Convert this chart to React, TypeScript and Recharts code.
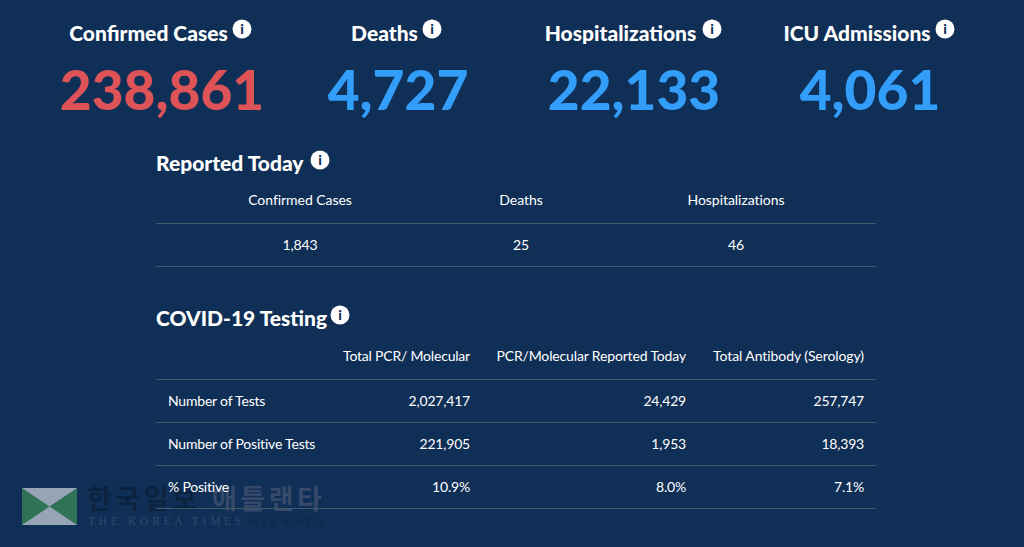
import { Surface, Layer, Text, Dot, Rectangle, Polygon, Curve } from 'recharts'

const BG = '#102f56'
const WHITE = '#ffffff'
const RED = '#dd5357'
const BLUE = '#339dfa'
const RULE = '#3d5a69'
const FONT = 'Lato, sans-serif'

const headlineLabels = ['Confirmed Cases', 'Deaths', 'Hospitalizations', 'ICU Admissions']
const headlineValues = ['238,861', '4,727', '22,133', '4,061']
const headlineColors = [RED, BLUE, BLUE, BLUE]
const headlineX = [148.5, 384.5, 620.5, 857]
const headlineValueX = [162, 398, 634, 870]
const headlineInfoX = [242, 432, 712, 945]

const todayHeaders = ['Confirmed Cases', 'Deaths', 'Hospitalizations']
const todayValues = ['1,843', '25', '46']
const todayX = [300, 521, 736]

const testingHeaders = ['Total PCR/ Molecular', 'PCR/Molecular Reported Today', 'Total Antibody (Serology)']
const testingHeaderSpacing = [-0.2, -0.15, -0.08]
const testingRows = ['Number of Tests', 'Number of Positive Tests', '% Positive']
const totalPcr = ['2,027,417', '221,905', '10.9%']
const pcrToday = ['24,429', '1,953', '8.0%']
const totalAntibody = ['257,747', '18,393', '7.1%']
const testingColumns = [totalPcr, pcrToday, totalAntibody]
const testingX = [470, 686, 864]
const testingRowY = [401, 444, 487]
const ruleY = [223, 266, 379, 422, 465, 508]

function Info({ x, y }: { x: number; y: number }) {
  return (
    <Layer>
      <Dot cx={x} cy={y} r={9.5} fill={WHITE} />
      <Text x={x} y={y + 0.5} textAnchor="middle" verticalAnchor="middle" fontFamily={FONT} fontWeight={900} fontSize={14} fill={BG}>
        i
      </Text>
    </Layer>
  )
}

function Label({ x, y, anchor = 'start', size = 14, weight = 400, color = WHITE, spacing = 0, children }: any) {
  return (
    <Text x={x} y={y} textAnchor={anchor} verticalAnchor="middle" fontFamily={FONT} fontSize={size} fontWeight={weight} fill={color} letterSpacing={spacing}>
      {children}
    </Text>
  )
}

function Watermark() {
  return (
    <Layer>
      <Rectangle x={22} y={488} width={55} height={37} fill="#97a4b5" />
      <Polygon points={[{ x: 22, y: 488 }, { x: 49.5, y: 506.5 }, { x: 22, y: 525 }]} fill="#2f7256" />
      <Polygon points={[{ x: 77, y: 488 }, { x: 49.5, y: 506.5 }, { x: 77, y: 525 }]} fill="#2f7256" />
      <Text x={87} y={499} verticalAnchor="middle" fontFamily="Noto Sans CJK KR" fontWeight={700} fontSize={27} letterSpacing={3.5} fill="#0c2340">
        한국일보
      </Text>
      <Text x={212} y={499} verticalAnchor="middle" fontFamily="Noto Sans CJK KR" fontWeight={700} fontSize={27} letterSpacing={3.5} fill="#36496a">
        애틀랜타
      </Text>
      <Text x={88} y={521} verticalAnchor="middle" fontFamily="Liberation Serif" fontSize={11.5} letterSpacing={3.7} fill="#2d4a70">
        THE KOREA TIMES
      </Text>
      <Text x={250} y={521} verticalAnchor="middle" fontFamily="Liberation Serif" fontSize={11.5} letterSpacing={3.4} fill="#0d2442">
        ATLANTA
      </Text>
    </Layer>
  )
}

export default function App() {
  return (
    <div style={{ position: 'absolute', left: 0, top: 0, width: 1024, height: 547, background: BG }}>
      <Surface width={1024} height={547} viewBox={{ x: 0, y: 0, width: 1024, height: 547 }}>
        <Watermark />

        {headlineLabels.map((label, i) => (
          <Layer key={label}>
            <Label x={headlineX[i]} y={33.5} anchor="middle" size={21} weight={900}>{label}</Label>
            <Info x={headlineInfoX[i]} y={29} />
            <Label x={headlineValueX[i]} y={90} anchor="middle" size={55} weight={900} color={headlineColors[i]}>
              {headlineValues[i]}
            </Label>
          </Layer>
        ))}

        <Label x={156} y={164} size={21} weight={900}>Reported Today</Label>
        <Info x={320} y={160} />
        {todayHeaders.map((h, i) => (
          <Layer key={h}>
            <Label x={todayX[i]} y={200} anchor="middle" spacing={-0.05}>{h}</Label>
            <Label x={todayX[i]} y={245} anchor="middle" spacing={-0.1}>{todayValues[i]}</Label>
          </Layer>
        ))}

        <Label x={156} y={319} size={21} weight={900}>COVID-19 Testing</Label>
        <Info x={340} y={315} />
        {testingHeaders.map((h, i) => (
          <Label key={h} x={testingX[i]} y={356} anchor="end" spacing={testingHeaderSpacing[i]}>{h}</Label>
        ))}
        {testingRows.map((row, r) => (
          <Layer key={row}>
            <Label x={168} y={testingRowY[r]} spacing={-0.2}>{row}</Label>
            {testingColumns.map((col, c) => (
              <Label key={c} x={testingX[c]} y={testingRowY[r]} anchor="end" spacing={-0.2}>{col[r]}</Label>
            ))}
          </Layer>
        ))}

        {ruleY.map((y) => (
          <Curve key={y} type="linear" points={[{ x: 156, y: y + 0.5 }, { x: 876, y: y + 0.5 }]} stroke={RULE} strokeWidth={1} fill="none" />
        ))}
      </Surface>
    </div>
  )
}
